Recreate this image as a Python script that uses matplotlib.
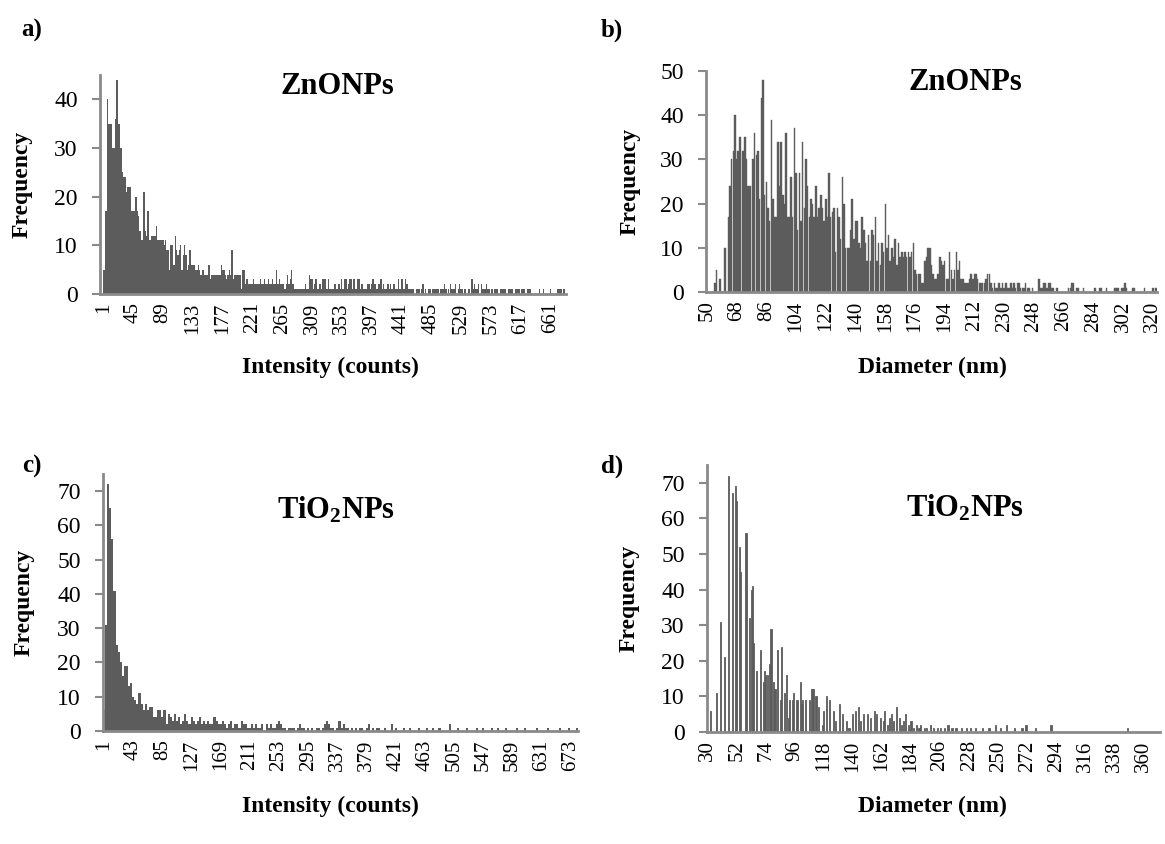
import matplotlib
matplotlib.use("Agg")
import matplotlib.pyplot as plt

# -------------------------------------------------
# Data
# -------------------------------------------------

# a) ZnONPs intensity, bins of 2 counts starting at 1
zno_int_start, zno_int_step = 1, 2
zno_int = [
    5, 5, 17, 40, 35, 35, 35, 30, 30, 36,
    44, 35, 35, 30, 25, 24, 24, 21, 22, 22,
    22, 17, 17, 17, 20, 17, 16, 13, 11, 11,
    21, 13, 12, 17, 11, 11, 12, 12, 12, 14,
    11, 11, 11, 11, 11, 10, 11, 9, 9, 5,
    10, 10, 6, 12, 9, 8, 9, 10, 5, 8,
    10, 8, 5, 6, 9, 6, 6, 6, 5, 5,
    6, 5, 4, 5, 5, 4, 4, 4, 6, 3,
    4, 4, 4, 4, 4, 4, 4, 6, 5, 5,
    4, 3, 4, 5, 4, 9, 3, 4, 4, 4,
    4, 4, 1, 5, 5, 2, 3, 2, 2, 2,
    2, 3, 2, 2, 2, 2, 3, 2, 2, 3,
    2, 2, 3, 2, 2, 3, 2, 2, 5, 2,
    3, 2, 2, 2, 1, 2, 4, 2, 3, 5,
    2, 1, 1, 1, 1, 1, 1, 1, 1, 2,
    1, 1, 4, 3, 3, 1, 2, 3, 1, 1,
    2, 1, 3, 3, 3, 1, 3, 1, 1, 1,
    1, 2, 1, 1, 2, 1, 3, 1, 3, 3,
    1, 2, 3, 3, 1, 3, 1, 1, 3, 3,
    1, 2, 1, 1, 1, 2, 2, 1, 2, 3,
    2, 2, 1, 2, 2, 3, 1, 2, 1, 1,
    2, 1, 2, 1, 2, 2, 1, 1, 3, 1,
    3, 3, 1, 3, 2, 1, 1, 1, 1, 1,
    0, 1, 1, 1, 0, 1, 2, 0, 1, 0,
    1, 1, 0, 1, 1, 1, 1, 1, 0, 1,
    1, 1, 2, 1, 0, 1, 2, 1, 1, 1,
    2, 0, 1, 2, 1, 1, 0, 1, 0, 0,
    1, 0, 3, 1, 2, 1, 1, 2, 0, 2,
    1, 1, 1, 2, 1, 1, 0, 1, 0, 1,
    1, 1, 0, 1, 1, 1, 1, 1, 0, 1,
    1, 1, 1, 0, 1, 1, 1, 1, 0, 1,
    1, 1, 0, 1, 1, 1, 0, 0, 0, 0,
    0, 0, 1, 0, 0, 1, 0, 0, 0, 0,
    1, 0, 0, 0, 0, 1, 1, 1, 1, 0,
    1, 0,
]

# b) ZnONPs diameter, bins of 1 nm starting at 50
zno_dia_start, zno_dia_step = 50, 1
zno_dia = [
    0, 0, 0, 0, 0, 2, 5, 0, 3, 0,
    0, 10, 0, 17, 24, 30, 32, 40, 30, 32,
    35, 0, 32, 35, 30, 24, 24, 0, 30, 36,
    31, 32, 21, 44, 48, 22, 25, 19, 16, 39,
    21, 17, 17, 34, 24, 34, 22, 20, 36, 17,
    17, 26, 17, 37, 27, 14, 27, 16, 34, 19,
    30, 24, 17, 21, 20, 17, 24, 17, 19, 22,
    19, 16, 21, 17, 27, 17, 18, 19, 9, 19,
    17, 12, 26, 20, 10, 10, 10, 14, 21, 12,
    16, 16, 11, 10, 17, 14, 11, 7, 13, 7,
    14, 13, 17, 7, 11, 6, 11, 9, 20, 10,
    13, 7, 10, 8, 12, 6, 11, 8, 9, 8,
    9, 8, 9, 8, 9, 11, 5, 4, 4, 4,
    2, 2, 7, 8, 10, 10, 6, 4, 3, 3,
    4, 8, 7, 6, 7, 3, 3, 9, 5, 3,
    5, 9, 5, 7, 3, 3, 2, 2, 2, 3,
    4, 3, 4, 4, 3, 2, 2, 2, 2, 3,
    4, 4, 2, 1, 2, 1, 1, 2, 1, 2,
    1, 2, 1, 1, 2, 1, 2, 1, 2, 2,
    1, 1, 1, 2, 1, 1, 0, 1, 0, 0,
    0, 3, 1, 1, 2, 2, 1, 2, 2, 1,
    1, 0, 1, 0, 0, 0, 0, 0, 0, 1,
    1, 2, 2, 0, 1, 1, 0, 0, 1, 0,
    0, 0, 0, 0, 0, 1, 0, 0, 1, 1,
    0, 0, 1, 0, 0, 0, 0, 1, 1, 1,
    0, 1, 1, 2, 1, 0, 0, 0, 1, 1,
    0, 0, 0, 0, 0, 1, 0, 0, 0, 0,
    1, 0, 1,
]

# c) TiO2NPs intensity, bins of 3 counts starting at 1
tio_int_start, tio_int_step = 1, 3
tio_int = [
    6, 31, 72, 65, 56, 41, 25, 23, 20, 16,
    19, 19, 13, 14, 10, 9, 8, 11, 8, 6,
    8, 6, 7, 7, 4, 4, 6, 6, 4, 6,
    2, 5, 4, 3, 5, 3, 4, 2, 3, 5,
    3, 2, 4, 3, 2, 3, 4, 2, 3, 2,
    3, 2, 2, 4, 3, 2, 2, 3, 2, 1,
    2, 3, 1, 2, 2, 1, 3, 2, 2, 1,
    1, 2, 1, 2, 1, 1, 2, 0, 2, 1,
    2, 1, 1, 2, 3, 2, 1, 1, 0, 1,
    1, 1, 0, 1, 2, 1, 1, 0, 1, 0,
    1, 0, 1, 1, 0, 1, 2, 3, 2, 1,
    1, 0, 1, 3, 1, 2, 1, 1, 0, 1,
    0, 1, 0, 1, 1, 0, 1, 2, 0, 1,
    0, 1, 1, 0, 0, 1, 0, 0, 2, 0,
    1, 0, 0, 0, 1, 0, 0, 1, 0, 0,
    0, 1, 0, 0, 0, 1, 0, 0, 1, 0,
    0, 1, 0, 0, 0, 0, 2, 0, 0, 0,
    1, 0, 0, 0, 1, 0, 0, 0, 0, 1,
    0, 0, 1, 0, 0, 0, 1, 0, 0, 1,
    0, 0, 0, 1, 0, 0, 0, 0, 1, 0,
    0, 0, 1, 0, 0, 0, 0, 0, 1, 0,
    0, 0, 0, 1, 0, 0, 0, 0, 0, 1,
    0, 0, 0, 1, 0, 0, 0, 1,
]

# d) TiO2NPs diameter, bins of 1 nm starting at 30
tio_dia_start, tio_dia_step = 30, 1
tio_dia = [
    0, 0, 6, 0, 0, 0, 0, 11, 0, 0,
    31, 0, 0, 21, 0, 0, 72, 0, 0, 67,
    0, 69, 65, 0, 52, 45, 0, 0, 0, 56,
    0, 0, 32, 40, 41, 25, 0, 17, 0, 0,
    23, 0, 14, 17, 16, 16, 0, 19, 29, 0,
    14, 12, 0, 23, 0, 9, 24, 0, 11, 0,
    16, 4, 9, 0, 9, 11, 0, 9, 9, 0,
    14, 8, 9, 0, 9, 0, 0, 9, 0, 12,
    12, 0, 10, 0, 7, 0, 0, 2, 6, 0,
    10, 0, 9, 0, 0, 6, 0, 3, 0, 0,
    8, 0, 5, 0, 0, 3, 0, 1, 0, 0,
    5, 0, 6, 0, 7,
    0, 3, 0, 5, 0, 0, 5, 0, 4, 0, 0, 6, 0, 5, 0, 0,
    4, 0, 3, 6, 0, 2, 0, 4, 5, 0, 3, 0, 7, 0, 4, 0, 2, 3, 0, 5,
    0, 2, 0, 3, 0, 1, 0, 2, 0, 1, 2, 0, 0, 1, 0, 1, 0, 0, 2, 0,
    1, 0, 0, 1, 0, 1, 0, 0, 1, 0, 0, 2, 0, 0, 1, 0, 0, 1, 0, 0,
    0, 1, 0, 0, 0, 1, 0, 0, 1, 0, 0, 0, 1, 0, 0, 0, 0, 1, 0, 0,
    0, 0, 1, 0, 0, 0, 0, 2, 0, 0, 0, 1, 0, 0, 0, 2, 0, 0, 0, 0,
    0, 1, 0, 0, 0, 0, 0, 1, 0, 0, 2, 0, 0, 0, 0, 0, 0, 1, 0, 0,
    0, 0, 0, 0, 0, 0, 0, 0, 0, 2, 0, 0, 0, 0, 0, 0, 0, 0, 0, 0,
    0, 0, 0, 0, 0, 0, 0, 0, 0, 0, 0, 0, 0, 0, 0, 0, 0, 0, 0, 0,
    0, 0, 0, 0, 0, 0, 0, 0, 0, 0, 0, 0, 0, 0, 0, 0, 0, 0, 0, 0,
    0, 0, 0, 0, 0, 0, 0, 1, 0, 0, 0, 0, 0, 0, 0, 0, 0, 0, 0, 0,
    0, 0, 0, 0, 0, 0, 0, 0, 0, 0, 0, 0,
]

# -------------------------------------------------
# Style
# -------------------------------------------------

plt.rcParams["font.family"] = ["Liberation Serif", "DejaVu Serif"]
plt.rcParams["mathtext.default"] = "regular"

W, H = 1165, 844
BAR = "#5c5c5c"
AXIS = "#8a8a8a"

fig = plt.figure(figsize=(W / 100, H / 100), dpi=100)


def fx(x, y):
    return x / W, 1 - y / H


def make_panel(box, values, start, step, every, ymax, title, xlabel, letter,
               title_xy, xlabel_xy, letter_xy, ylabel_x, bar_w=1.0, edge=0, x0=-0.5):
    left, top, right, bottom = box
    ax = fig.add_axes([left / W, 1 - bottom / H, (right - left) / W, (bottom - top) / H])
    n = len(values)
    ax.bar(range(n), values, width=bar_w, color=BAR, edgecolor=BAR, linewidth=edge)
    ax.set_xlim(x0, n - 0.5)
    ax.set_ylim(0, ymax)
    ax.set_yticks(range(0, ymax + 1, 10))
    ticks = list(range(0, n, every))
    ax.set_xticks(ticks)
    ax.set_xticklabels([str(start + t * step) for t in ticks], rotation=90, fontsize=15)
    ax.tick_params(axis="x", length=0, pad=6)
    ax.tick_params(axis="y", length=6, width=1.5, color=AXIS, labelsize=17, pad=10)
    for s in ["top", "right"]:
        ax.spines[s].set_visible(False)
    for s in ["left", "bottom"]:
        ax.spines[s].set_color(AXIS)
        ax.spines[s].set_linewidth(2)

    fig.text(*fx(*title_xy), title, fontsize=22, fontweight="bold", ha="center", va="center")
    fig.text(*fx(*xlabel_xy), xlabel, fontsize=17, fontweight="bold", ha="center", va="center")
    fig.text(*fx(*letter_xy), letter, fontsize=18, fontweight="bold", ha="center", va="center")
    fig.text(*fx(ylabel_x, (top + bottom) / 2), "Frequency", fontsize=17, fontweight="bold",
             rotation=90, ha="center", va="center")
    return ax


make_panel((100, 75, 566, 294), zno_int, zno_int_start, zno_int_step, 22, 45,
           "ZnONPs", "Intensity (counts)", "a)",
           (337, 86), (330, 367), (32, 30), 22, x0=-2.5)

make_panel((706, 71, 1157, 292), zno_dia, zno_dia_start, zno_dia_step, 18, 50,
           "ZnONPs", "Diameter (nm)", "b)",
           (965, 82), (932, 367), (612, 30), 630, bar_w=0.9, edge=0.3)

make_panel((103, 474, 578, 731), tio_int, tio_int_start, tio_int_step, 14, 75,
           "TiO$_2$NPs", "Intensity (counts)", "c)",
           (336, 510), (330, 806), (32, 466), 24)

make_panel((707, 465, 1160, 732), tio_dia, tio_dia_start, tio_dia_step, 22, 75,
           "TiO$_2$NPs", "Diameter (nm)", "d)",
           (965, 508), (932, 806), (612, 466), 629, bar_w=0.85, edge=0.6)

fig.savefig("out.png", dpi=100)
